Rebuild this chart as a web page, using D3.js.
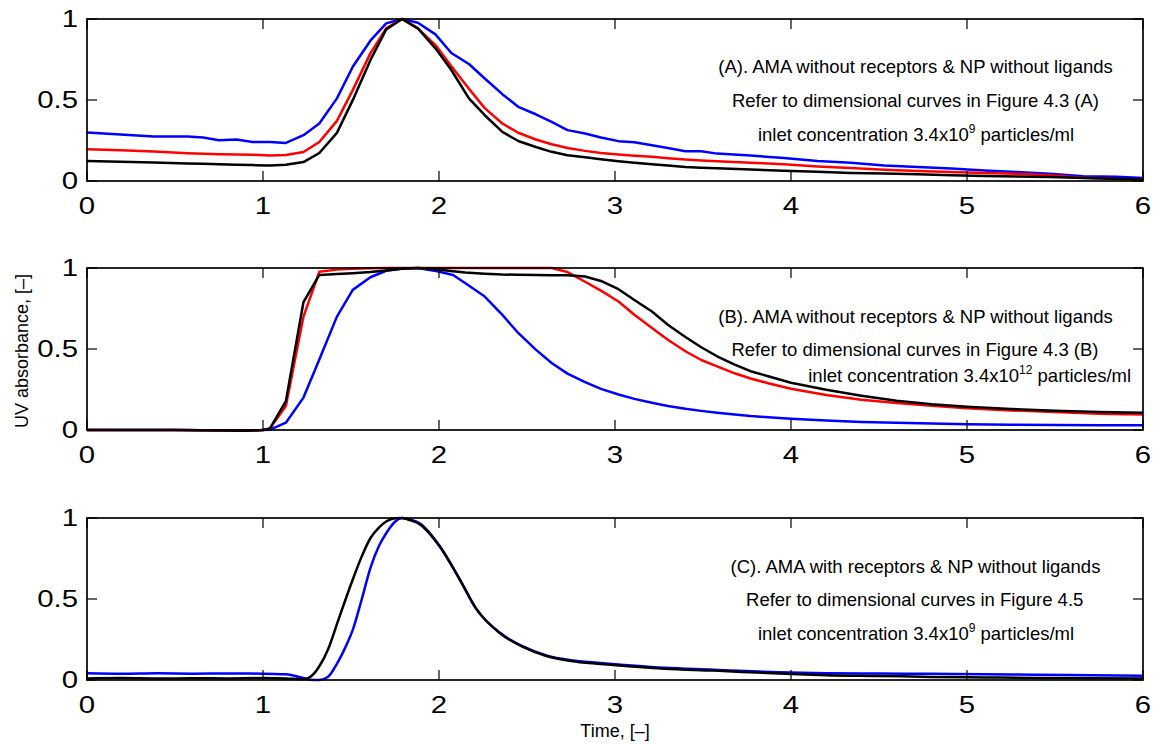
<!DOCTYPE html>
<html>
<head>
<meta charset="utf-8">
<script src="https://cdn.jsdelivr.net/npm/d3@7"></script>
<style>
  html, body { margin: 0; padding: 0; background: #fff; }
  svg text { font-family: "Liberation Sans", Arial, Helvetica, sans-serif; fill: #000; }
</style>
</head>
<body>
<svg id="chart" width="1156" height="744"></svg>
<script>
// ---- shared axis definitions ----
const xTicks = [0, 1, 2, 3, 4, 5, 6];
const yTicks = [0, 0.5, 1];
const yTickLabels = ["0", "0.5", "1"];
const xLabel = "Time, [\u2013]";
const yLabel = "UV absorbance, [\u2013]";

// ---- panel A: AMA without receptors, NP without ligands, 3.4x10^9 ----
const timeA = [0, 0.19, 0.38, 0.57, 0.66, 0.75, 0.85, 0.94, 1.04, 1.13, 1.23, 1.32, 1.42, 1.51, 1.61, 1.70, 1.79,
  1.88, 1.98, 2.07, 2.17, 2.26, 2.36, 2.45, 2.55, 2.64, 2.73, 2.83, 2.92, 3.02, 3.11, 3.21, 3.30, 3.40, 3.49, 3.58,
  3.77, 3.96, 4.15, 4.34, 4.53, 4.72, 4.91, 5.10, 5.28, 5.47, 5.66, 5.85, 6.0];
const blueA = [0.300, 0.287, 0.274, 0.274, 0.268, 0.252, 0.256, 0.241, 0.241, 0.235, 0.283, 0.355, 0.510, 0.705, 0.866, 0.973, 1.0,
  0.977, 0.905, 0.790, 0.722, 0.633, 0.536, 0.458, 0.412, 0.365, 0.314, 0.293, 0.268, 0.246, 0.239, 0.221, 0.204, 0.184, 0.184, 0.169,
  0.157, 0.142, 0.124, 0.112, 0.096, 0.086, 0.077, 0.065, 0.056, 0.045, 0.029, 0.026, 0.019];
const redA = [0.196, 0.190, 0.182, 0.172, 0.168, 0.165, 0.164, 0.162, 0.157, 0.160, 0.179, 0.241, 0.371, 0.561, 0.788, 0.942, 1.0,
  0.942, 0.839, 0.708, 0.570, 0.450, 0.355, 0.298, 0.256, 0.227, 0.204, 0.186, 0.173, 0.163, 0.156, 0.149, 0.140, 0.132, 0.127, 0.122,
  0.113, 0.103, 0.090, 0.080, 0.069, 0.062, 0.055, 0.049, 0.044, 0.036, 0.020, 0.012, 0.010];
const blackA = [0.124, 0.119, 0.114, 0.108, 0.106, 0.103, 0.100, 0.098, 0.095, 0.100, 0.117, 0.173, 0.297, 0.499, 0.746, 0.936, 1.0,
  0.942, 0.819, 0.685, 0.510, 0.406, 0.303, 0.247, 0.210, 0.180, 0.159, 0.146, 0.134, 0.122, 0.113, 0.104, 0.095, 0.087, 0.082, 0.078,
  0.071, 0.063, 0.057, 0.050, 0.046, 0.041, 0.035, 0.031, 0.028, 0.024, 0.019, 0.014, 0.009];
const notesA = ["(A). AMA without receptors & NP without ligands",
  "Refer to dimensional curves in Figure 4.3 (A)",
  ["inlet concentration 3.4x10", "9", " particles/ml"]];

// ---- panel B: AMA without receptors, NP without ligands, 3.4x10^12 ----
const timeB = [0, 0.5, 0.8, 0.9, 1.0, 1.04, 1.13, 1.23, 1.32, 1.42, 1.51, 1.61, 1.70, 1.79, 1.88, 1.99, 2.08, 2.15,
  2.26, 2.36, 2.45, 2.55, 2.64, 2.73, 2.83, 2.92, 3.02, 3.11, 3.21, 3.30, 3.40, 3.49, 3.58, 3.68, 3.77, 3.87,
  4.0, 4.2, 4.4, 4.6, 4.8, 5.0, 5.25, 5.5, 5.75, 6.0];
const blueB = [0, 0, -0.003, -0.005, 0, 0.002, 0.045, 0.200, 0.435, 0.700, 0.865, 0.943, 0.983, 0.997, 1.0, 0.980, 0.957, 0.906,
  0.824, 0.711, 0.599, 0.496, 0.414, 0.348, 0.295, 0.254, 0.219, 0.192, 0.168, 0.148, 0.131, 0.118, 0.107, 0.096, 0.086, 0.079,
  0.070, 0.058, 0.050, 0.045, 0.040, 0.036, 0.033, 0.031, 0.030, 0.029];
const redB = [0, 0, -0.003, -0.005, 0, 0.010, 0.148, 0.700, 0.977, 0.990, 0.995, 0.998, 1.0, 1.0, 1.0, 1.0, 1.0, 1.0,
  1.0, 1.0, 1.0, 1.0, 1.0, 0.975, 0.915, 0.860, 0.793, 0.711, 0.629, 0.557, 0.486, 0.432, 0.393, 0.350, 0.318, 0.289,
  0.255, 0.216, 0.187, 0.166, 0.149, 0.134, 0.121, 0.111, 0.101, 0.095];
const blackB = [0, 0, -0.003, -0.005, 0, 0.010, 0.178, 0.790, 0.957, 0.963, 0.968, 0.975, 0.985, 0.995, 1.0, 0.990, 0.980, 0.972,
  0.965, 0.960, 0.958, 0.957, 0.956, 0.955, 0.948, 0.920, 0.869, 0.803, 0.731, 0.650, 0.574, 0.511, 0.455, 0.404, 0.363, 0.332,
  0.292, 0.248, 0.212, 0.180, 0.159, 0.144, 0.130, 0.119, 0.111, 0.107];
const notesB = ["(B). AMA without receptors & NP without ligands",
  "Refer to dimensional curves in Figure 4.3 (B)",
  ["inlet concentration 3.4x10", "12", " particles/ml"]];

// ---- panel C: AMA with receptors, NP without ligands, 3.4x10^9 ----
const timeC = [0, 0.2, 0.4, 0.6, 0.8, 1.0, 1.13, 1.23, 1.27, 1.32, 1.37, 1.42, 1.47, 1.51, 1.56, 1.61, 1.66, 1.70, 1.75,
  1.79, 1.84, 1.89, 2.0, 2.12, 2.21, 2.35, 2.48, 2.61, 2.75, 2.9, 3.02, 3.28, 3.56, 3.93, 4.2, 4.5, 4.8, 5.1, 5.4, 5.7, 6.0];
const blueC = [0.041, 0.038, 0.041, 0.039, 0.040, 0.039, 0.035, 0.012, 0.002, 0.0, 0.020, 0.100, 0.206, 0.309, 0.494, 0.690, 0.830, 0.906, 0.977,
  1.0, 0.990, 0.967, 0.833, 0.617, 0.442, 0.288, 0.206, 0.152, 0.122, 0.106, 0.096, 0.075, 0.064, 0.048, 0.042, 0.040, 0.038, 0.036, 0.032, 0.030, 0.027];
const blackC = [0.010, 0.012, 0.009, 0.011, 0.010, 0.012, 0.010, 0.005, 0.020, 0.085, 0.190, 0.345, 0.500, 0.620, 0.760, 0.875, 0.942, 0.978, 0.998,
  1.0, 0.985, 0.962, 0.830, 0.617, 0.442, 0.285, 0.203, 0.148, 0.117, 0.100, 0.090, 0.070, 0.058, 0.040, 0.030, 0.025, 0.019, 0.016, 0.013, 0.011, 0.010];
const notesC = ["(C). AMA with receptors & NP without ligands",
  "Refer to dimensional curves in Figure 4.5",
  ["inlet concentration 3.4x10", "9", " particles/ml"]];

// ---- layout ----
const plotLeft = 87, plotRight = 1143, plotHeight = 162;
const panels = [
  { top: 19,  time: timeA, curve: d3.curveLinear,
    series: [[blueA, "#0000ff"], [redA, "#ff0000"], [blackA, "#000000"]],
    notes: notesA, noteX: [915.5, 915.5, 916], noteY: [73.3, 106.7, 140.7] },
  { top: 268, time: timeB, curve: d3.curveLinear,
    series: [[blueB, "#0000ff"], [redB, "#ff0000"], [blackB, "#000000"]],
    notes: notesB, noteX: [915.5, 915, 969.7], noteY: [323.3, 356, 381.7] },
  { top: 518, time: timeC, curve: d3.curveMonotoneX,
    series: [[blueC, "#0000ff"], [blackC, "#000000"]],
    notes: notesC, noteX: [915.5, 914.7, 916], noteY: [573.3, 606, 640] }
];

const svg = d3.select("#chart");
const x = d3.scaleLinear().domain([0, 6]).range([plotLeft, plotRight]);
const tickLen = 10;
const tickFont = 23.5, tickStretch = 1.25;

panels.forEach((p, i) => {
  const y = d3.scaleLinear().domain([0, 1]).range([p.top + plotHeight, p.top]);
  const g = svg.append("g");

  // clip curves to the frame
  const clipId = "clip" + i;
  svg.append("clipPath").attr("id", clipId)
    .append("rect").attr("x", plotLeft).attr("y", p.top - 3)
    .attr("width", plotRight - plotLeft).attr("height", plotHeight + 6);

  const line = d3.line()
    .x((d, k) => x(p.time[k]))
    .y(d => y(d))
    .curve(p.curve);

  const curves = g.append("g").attr("clip-path", `url(#${clipId})`);
  p.series.forEach(([vals, color]) => {
    curves.append("path")
      .attr("d", line(vals))
      .attr("fill", "none")
      .attr("stroke", color)
      .attr("stroke-width", 2.5)
      .attr("stroke-linejoin", "round");
  });

  // frame
  g.append("rect")
    .attr("x", plotLeft).attr("y", p.top)
    .attr("width", plotRight - plotLeft).attr("height", plotHeight)
    .attr("fill", "none").attr("stroke", "#000").attr("stroke-width", 1.7);

  // inward ticks on all four sides
  const ticks = g.append("g").attr("stroke", "#000").attr("stroke-width", 1.2);
  xTicks.forEach(t => {
    ticks.append("line").attr("x1", x(t)).attr("x2", x(t))
      .attr("y1", y(0)).attr("y2", y(0) - tickLen);
    ticks.append("line").attr("x1", x(t)).attr("x2", x(t))
      .attr("y1", y(1)).attr("y2", y(1) + tickLen);
  });
  yTicks.forEach(t => {
    ticks.append("line").attr("x1", plotLeft).attr("x2", plotLeft + tickLen)
      .attr("y1", y(t)).attr("y2", y(t));
    ticks.append("line").attr("x1", plotRight).attr("x2", plotRight - tickLen)
      .attr("y1", y(t)).attr("y2", y(t));
  });

  // tick labels
  xTicks.forEach(t => {
    g.append("text")
      .attr("transform", `translate(${x(t)},${y(0) + 33}) scale(${tickStretch},1)`)
      .attr("text-anchor", "middle")
      .attr("font-size", tickFont)
      .text(d3.format("d")(t));
  });
  yTicks.forEach((t, k) => {
    g.append("text")
      .attr("transform", `translate(${plotLeft - 9},${y(t) + 8.4}) scale(${tickStretch},1)`)
      .attr("text-anchor", "end")
      .attr("font-size", tickFont)
      .text(yTickLabels[k]);
  });

  // annotation block
  p.notes.forEach((n, k) => {
    const t = g.append("text")
      .attr("x", p.noteX[k]).attr("y", p.noteY[k])
      .attr("text-anchor", "middle")
      .attr("font-size", 18.5);
    if (Array.isArray(n)) {
      t.append("tspan").text(n[0]);
      t.append("tspan").attr("dy", -8).attr("font-size", 12).text(n[1]);
      t.append("tspan").attr("dy", 8).text(n[2]);
    } else {
      t.text(n);
    }
  });
});

// axis titles
svg.append("text")
  .attr("x", (plotLeft + plotRight) / 2).attr("y", 736.5)
  .attr("text-anchor", "middle").attr("font-size", 18)
  .text(xLabel);
svg.append("text")
  .attr("transform", `translate(28,${268 + plotHeight / 2 + 2}) rotate(-90)`)
  .attr("text-anchor", "middle").attr("font-size", 18)
  .text(yLabel);
</script>
</body>
</html>
